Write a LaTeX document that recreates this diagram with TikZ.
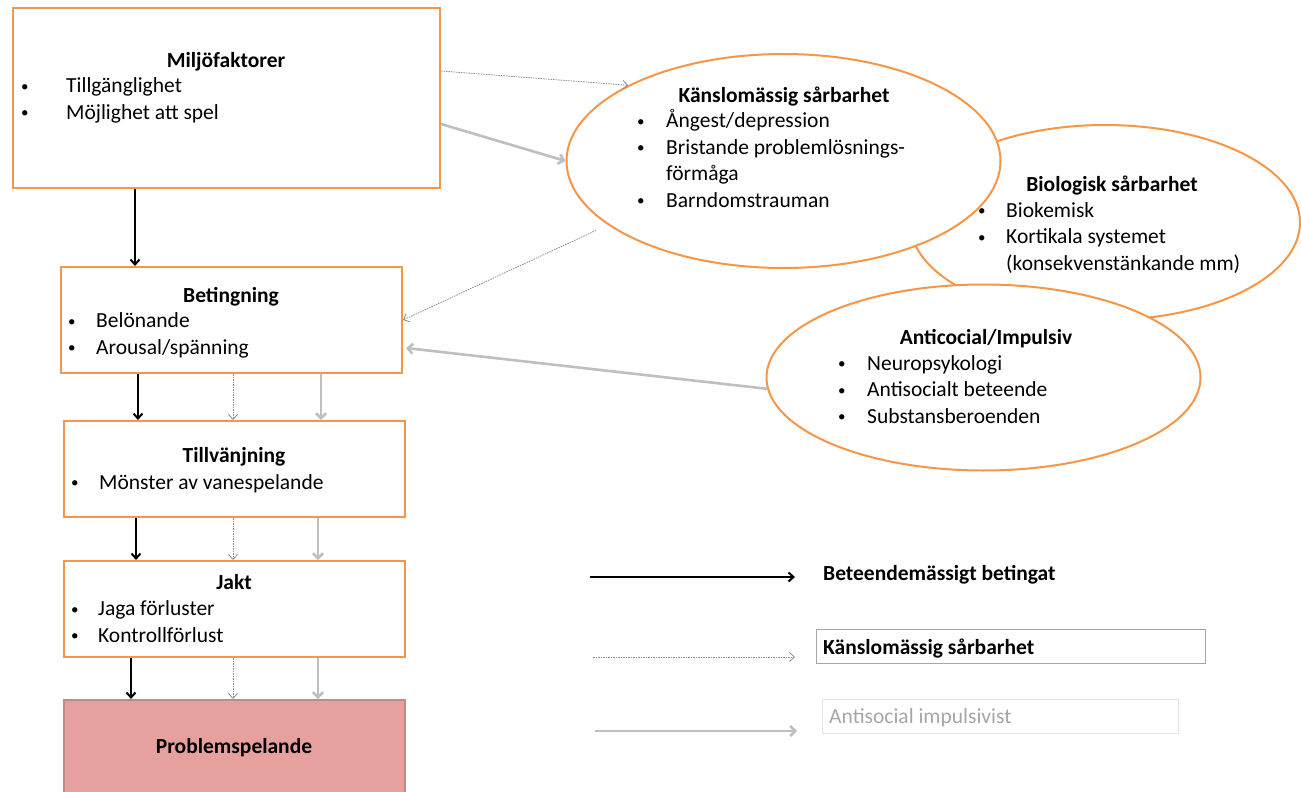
\documentclass[tikz,border=0pt]{standalone}
\usepackage{fontspec}
\setmainfont{Carlito}
\usetikzlibrary{positioning,arrows.meta,calc,shapes.geometric}
\definecolor{cOrange}{HTML}{F79646}
\definecolor{cPink}{HTML}{E6A19F}
\definecolor{cDot}{HTML}{8C8C8C}
\definecolor{cLight}{HTML}{BFBFBF}
\definecolor{cFrame}{HTML}{A6A6A6}
\definecolor{cFaint}{HTML}{E3E3E3}
\newcommand{\fs}{\fontsize{21.5pt}{26.5pt}\selectfont}
\newcommand{\dotmark}{\raisebox{1.5pt}{\fontsize{15pt}{15pt}\selectfont\textbullet}}
\newcommand{\bul}[2][29pt]{\makebox[#1][l]{\dotmark}#2}
\newcommand{\cont}[2][29pt]{\hspace*{#1}#2}
\tikzset{
  box/.style={draw=cOrange, line width=2pt, fill=white, minimum width=341pt,
              minimum height=96pt, inner sep=0pt},
  oval/.style={ellipse, draw=cOrange, line width=2pt, fill=white, inner sep=0pt},
  ttl/.style={font=\fs\bfseries, anchor=base, inner sep=0pt},
  lst/.style={align=left, anchor=base west, inner sep=0pt},
  legbox/.style={anchor=north west, minimum height=34pt, inner sep=0pt},
  legtxt/.style={anchor=base west, inner sep=0pt},
  blkar/.style={-{Straight Barb[length=5pt,width=9pt]}, black, line width=2pt},
  dotar/.style={-{Straight Barb[length=5pt,width=9pt]}, cDot, line width=0.8pt,
                dash pattern=on 1.5pt off 1pt},
  greyar/.style={-{Straight Barb[length=5pt,width=10pt]}, cLight, line width=2.6pt}
}
\begin{document}
\begin{tikzpicture}[x=1pt, y=-1pt, every node/.style={font=\fs}]
\useasboundingbox (0,0) rectangle (1301,792);

% left column
\node[box, minimum width=427pt, minimum height=180pt] (miljo) at (226.5,98) {};
\node[box, minimum height=106pt] (beting) at (231.5,320) {};
\node[box] (tillv) at (234,469) {};
\node[box] (jakt) at (234,609) {};
\node[box, draw=cPink!85!black, fill=cPink, minimum height=110pt] (problem) at (234,755) {};

% list nodes are placed by the baseline of their last line
\node[ttl] (miljo-t) at (226,67) {Miljöfaktorer};
\node[lst] (miljo-l) at (21,119) {\bul[45pt]{Tillgänglighet}\\\bul[45pt]{Möjlighet att spel}};
\node[ttl] (beting-t) at (231,302) {Betingning};
\node[lst] (beting-l) at (68,354) {\bul[28pt]{Belönande}\\\bul[28pt]{Arousal/spänning}};
\node[ttl] (tillv-t) at (234,462) {Tillvänjning};
\node[lst] (tillv-l) at (71,489) {\bul[28pt]{Mönster av vanespelande}};
\node[ttl] (jakt-t) at (234,589) {Jakt};
\node[lst] (jakt-l) at (71,642) {\bul[27pt]{Jaga förluster}\\\bul[27pt]{Kontrollförlust}};
\node[ttl] (problem-t) at (234,753) {Problemspelande};

% vulnerabilities
\node[oval, minimum width=390pt, minimum height=195pt] (bio) at (1105,222.5) {};
\node[oval, minimum width=434pt, minimum height=186pt] (anti) at (983.5,377.5) {};
\node[oval, minimum width=434pt, minimum height=214pt] (kansla) at (783.5,161) {};

\node[ttl] (kansla-t) at (784,102) {Känslomässig sårbarhet};
\node[lst] (kansla-l) at (637,207) {\bul{Ångest/depression}\\\bul{Bristande problemlösnings-}\\
  \cont{förmåga}\\\bul{Barndomstrauman}};
\node[ttl] (bio-t) at (1112,191) {Biologisk sårbarhet};
\node[lst] (bio-l) at (978,270) {\bul[28pt]{Biokemisk}\\\bul[28pt]{Kortikala systemet}\\
  \cont[28pt]{(konsekvenstänkande mm)}};
\node[ttl] (anti-t) at (986,344) {Anticocial/Impulsiv};
\node[lst] (anti-l) at (838,423) {\bul{Neuropsykologi}\\\bul{Antisocialt beteende}\\
  \bul{Substansberoenden}};

% connectors
\draw[blkar] (miljo.south -| 135,0) -- (beting.north -| 135,0);
\foreach \a/\b/\xk/\xg in {beting/tillv/138/321, tillv/jakt/136/318, jakt/problem/131/318}
{
  \draw[blkar] (\a.south -| \xk,0) -- (\b.north -| \xk,0);
  \draw[dotar] (\a.south -| 233,0) -- (\b.north -| 233,0);
  \draw[greyar] (\a.south -| \xg,0) -- (\b.north -| \xg,0);
}
\draw[dotar] ($(miljo.north east)+(0,64)$) -- (kansla.154);
\draw[greyar] ($(miljo.north east)+(0,117)$) -- (kansla.west);
\draw[dotar, shorten <=13pt] (kansla.200) -- (beting.east);
\draw[greyar] (anti.183) -- ($(beting.east)+(3,28)$);

% legend
\coordinate (leg1a) at (590,577);
\coordinate (leg1b) at (795,577);
\coordinate (leg2a) at (593,657);
\coordinate (leg2b) at (795,657);
\coordinate (leg3a) at (595,731);
\coordinate (leg3b) at (797,731);
\draw[blkar] (leg1a) -- (leg1b);
\draw[dotar] (leg2a) -- (leg2b);
\draw[greyar] (leg3a) -- (leg3b);
\node[legtxt, font=\fs\bfseries] (leg1) at (823,580) {Beteendemässigt betingat};
\node[legbox, draw=cFrame, line width=1pt, minimum width=389pt] (leg2box) at (816,629) {};
\node[legtxt, font=\fs\bfseries] (leg2) at (823,654) {Känslomässig sårbarhet};
\node[legbox, draw=cFaint, line width=1pt, minimum width=356pt] (leg3box) at (822,699) {};
\node[legtxt, text=cFrame] (leg3) at (829,723) {Antisocial impulsivist};
\end{tikzpicture}
\end{document}
